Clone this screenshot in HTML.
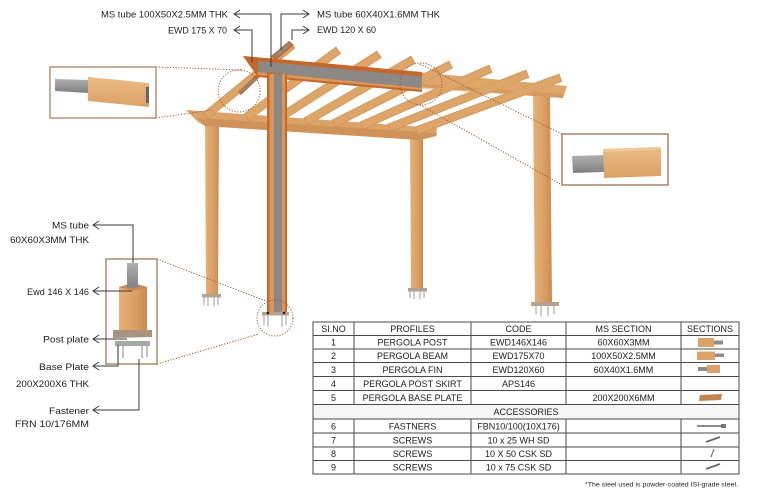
<!DOCTYPE html>
<html><head><meta charset="utf-8">
<style>
html,body{margin:0;padding:0;background:#fff;}
svg{display:block;}
text{font-family:"Liberation Sans",Arial,sans-serif;fill:#1e1e1e;}
</style></head><body>
<svg width="759" height="499" viewBox="0 0 759 499" xmlns="http://www.w3.org/2000/svg">
<defs>
<linearGradient id="post" x1="0" x2="1" y1="0" y2="0">
<stop offset="0" stop-color="#e6b07a"/><stop offset="0.6" stop-color="#da9f63"/><stop offset="1" stop-color="#c98b50"/>
</linearGradient>
<linearGradient id="steel" x1="0" y1="0" x2="0" y2="1"><stop offset="0" stop-color="#b0b0b0"/><stop offset="1" stop-color="#7f7f7f"/></linearGradient>
<linearGradient id="wblk" x1="0" y1="0" x2="0" y2="1"><stop offset="0" stop-color="#ebbb84"/><stop offset="1" stop-color="#d9a166"/></linearGradient>
</defs>
<rect width="759" height="499" fill="#fff"/>

<!-- posts behind -->
<polygon points="533,92 550,92 552,303 535,303" fill="url(#post)"/>
<polygon points="410,133 423,133 423,290 411,290" fill="url(#post)"/>
<polygon points="205,119 219,119 218,295 206,295" fill="url(#post)"/>

<!-- beam B -->
<polygon points="186,110 437,128 436,136 420,140 205,126 198,122" fill="#dca267"/>
<polygon points="198,118 437,133 436,136 420,140 205,126" fill="#cf9259"/>

<!-- beam A wood -->
<polygon points="243,56 567,86 563,98 258,75 250,66" fill="#dfa66b"/>
<polygon points="258,72 563,94 563,98 258,75" fill="#cc8d54"/>

<!-- rafters -->
<g fill="#dea569" stroke="#c88b50" stroke-width="0.6">
<polygon points="203,113 290,42 295,48 208,119"/>
<polygon points="244,114 336,47 340.7,53.4 248.7,120.4"/>
<polygon points="275,116 377,51 381.3,57.7 279.3,122.7"/>
<polygon points="304,118 411,56 415,62.9 308,124.9"/>
<polygon points="332,120 449,61 452.6,68.1 335.6,127.1"/>
<polygon points="360,122 489,65 492.2,72.3 363.2,129.3"/>
<polygon points="388,124 526,70 528.9,77.4 390.9,131.4"/>
<polygon points="415,127 559,74 561.8,81.4 417.8,134.4"/>
</g>
<!-- rafter 1 steel cuts -->
<polygon points="238,92 256,75 259,78 241,95" fill="#c5672b"/>
<polygon points="240,91 256,77 257.5,78.5 241.5,92.5" fill="#8a8a8a"/>
<polygon points="271,56 289,41 294,45 276,60" fill="#c5672b"/>
<polygon points="274,55 289,43 291.5,45 276.5,57.5" fill="#8a8a8a"/>

<!-- beam A wood right part over rafters -->
<polygon points="422,75 567,86 563,98 422,89" fill="#dea56a" opacity="0.55"/>
<!-- beam A steel section -->
<polygon points="243,56 422,72 422,92 258,77 250,66" fill="#c5672b"/>
<polygon points="258,61 422,76.5 422,88 258,72" fill="#8b8886"/>
<polygon points="258,72 422,88 422,90 258,75" fill="#d9975a"/>

<!-- center post cutaway -->
<polygon points="267,72 287,74 287,314 267,314" fill="#c5692c"/>
<rect x="269.5" y="74" width="15.5" height="240" fill="#d99658"/>
<rect x="274" y="74" width="8" height="240" fill="#8b8785"/>

<!-- base plates & anchors -->
<g stroke="#9c9c9c" stroke-width="1">
<line x1="204" y1="297" x2="204" y2="305"/><line x1="208" y1="297" x2="208" y2="306"/><line x1="214" y1="297" x2="214" y2="306"/><line x1="218" y1="297" x2="218" y2="305"/>
<line x1="264" y1="315" x2="264" y2="325"/><line x1="268" y1="315" x2="268" y2="327"/><line x1="282" y1="315" x2="282" y2="327"/><line x1="286" y1="315" x2="286" y2="325"/>
<line x1="410" y1="291" x2="410" y2="298"/><line x1="414" y1="291" x2="414" y2="299"/><line x1="420" y1="291" x2="420" y2="299"/><line x1="424" y1="291" x2="424" y2="298"/>
<line x1="536" y1="305" x2="536" y2="314"/><line x1="541" y1="305" x2="541" y2="316"/><line x1="548" y1="305" x2="548" y2="316"/><line x1="554" y1="305" x2="554" y2="314"/>
</g>
<rect x="202" y="294" width="19" height="3.5" fill="#b4a293"/>
<rect x="262" y="312" width="27" height="3.5" fill="#b4a293"/>
<circle cx="268" cy="313" r="1.3" fill="#222"/><circle cx="284" cy="313" r="1.3" fill="#222"/>
<rect x="408" y="288" width="19" height="3.5" fill="#b4a293"/>
<rect x="531" y="302" width="28" height="4" fill="#b4a293"/>

<!-- dotted circles and connectors -->
<g fill="none" stroke="#9a5a35" stroke-width="1" stroke-dasharray="1.2 1.6">
<circle cx="239" cy="91" r="21"/>
<circle cx="421" cy="84" r="21"/>
<circle cx="275" cy="318" r="18"/>
<line x1="156" y1="67" x2="243" y2="70"/>
<line x1="156" y1="118" x2="212" y2="110"/>
<line x1="420" y1="64" x2="562" y2="134"/>
<line x1="420" y1="105" x2="562" y2="185"/>
<line x1="157" y1="259" x2="266" y2="301"/>
<line x1="157" y1="364" x2="259" y2="334"/>
</g>

<!-- top-left inset -->
<rect x="50" y="67" width="106" height="51" fill="#fff" stroke="#b8937a" stroke-width="1.5"/>
<polygon points="55,79 88,80 88,93 55,91" fill="url(#steel)"/>
<polygon points="88,77 149,83 149,107 88,101" fill="url(#wblk)"/>
<polygon points="146,87 149,87 149,103 146,103" fill="#666"/>

<!-- right inset -->
<rect x="562" y="134" width="106" height="51" fill="#fff" stroke="#a98266" stroke-width="1.5"/>
<polygon points="572,156 604,155 604,172 573,173" fill="url(#steel)"/>
<polygon points="603,149 661,147 661,176 604,178" fill="url(#wblk)"/>
<polygon points="603,149 661,147 661,150 603,152" fill="#f0c896"/>

<!-- bottom-left inset -->
<rect x="106" y="259" width="51" height="105" fill="#fff" stroke="#b28a6c" stroke-width="1.5"/>
<rect x="127" y="263" width="11" height="25" fill="url(#steel)"/>
<polygon points="119,287 133,283 147,287 147,330 119,330" fill="url(#post)"/>
<polygon points="119,287 133,283 147,287 133,291" fill="#c98a52"/>
<rect x="127" y="283" width="11" height="5" fill="#888"/>
<polygon points="113,330 152,330 152,337 113,338" fill="#a8937f"/>
<rect x="115" y="341" width="35" height="5" fill="#a7a7a7"/>
<g stroke="#999" stroke-width="1.2">
<line x1="118" y1="346" x2="118" y2="357"/><line x1="123" y1="346" x2="123" y2="358"/>
<line x1="142" y1="346" x2="142" y2="358"/><line x1="147" y1="346" x2="147" y2="357"/>
</g>

<!-- label connectors -->
<g fill="none" stroke="#3a3a3a" stroke-width="1">
<polyline points="234,14 271,14 271,67"/>
<polyline points="240,10 234,14 240,18"/>
<polyline points="234,30 252,30 252,62"/>
<polyline points="240,26 234,30 240,34"/>
<polyline points="281,50 281,14 309,14"/>
<polyline points="303,10 309,14 303,18"/>
<polyline points="292,40 292,30 309,30"/>
<polyline points="303,26 309,30 303,34"/>

<polyline points="93,225 133,225 133,263"/>
<polyline points="99,221 93,225 99,229"/>
<polyline points="93,291 132,291"/>
<polyline points="99,287 93,291 99,295"/>
<polyline points="93,339 127,339"/>
<polyline points="99,335 93,339 99,343"/>
<polyline points="93,366 118,366 118,345"/>
<polyline points="99,362 93,366 99,370"/>
<polyline points="93,410 139,410 139,359"/>
<polyline points="99,406 93,410 99,414"/>
</g>

<!-- labels -->
<g font-size="9.5">
<text x="228" y="17.5" text-anchor="end" textLength="127" lengthAdjust="spacingAndGlyphs">MS tube 100X50X2.5MM THK</text>
<text x="227" y="33.5" text-anchor="end" textLength="59" lengthAdjust="spacingAndGlyphs">EWD 175 X 70</text>
<text x="317" y="17.5" textLength="123" lengthAdjust="spacingAndGlyphs">MS tube 60X40X1.6MM THK</text>
<text x="317" y="33" textLength="59" lengthAdjust="spacingAndGlyphs">EWD 120 X 60</text>

<text x="89" y="228.5" text-anchor="end" textLength="37" lengthAdjust="spacingAndGlyphs">MS tube</text>
<text x="89" y="243" text-anchor="end" textLength="79" lengthAdjust="spacingAndGlyphs">60X60X3MM THK</text>
<text x="89" y="295" text-anchor="end" textLength="62" lengthAdjust="spacingAndGlyphs">Ewd 146 X 146</text>
<text x="89" y="342.5" text-anchor="end" textLength="46" lengthAdjust="spacingAndGlyphs">Post plate</text>
<text x="89" y="370" text-anchor="end" textLength="50" lengthAdjust="spacingAndGlyphs">Base Plate</text>
<text x="89" y="387" text-anchor="end" textLength="73" lengthAdjust="spacingAndGlyphs">200X200X6 THK</text>
<text x="89" y="414" text-anchor="end" textLength="40" lengthAdjust="spacingAndGlyphs">Fastener</text>
<text x="89" y="427" text-anchor="end" textLength="74" lengthAdjust="spacingAndGlyphs">FRN 10/176MM</text>
</g>

<!-- table -->
<rect x="313" y="404.5" width="426" height="14.5" fill="#f6f6f6"/>
<g stroke="#4a4a4a" stroke-width="1" fill="none">
<rect x="313" y="322" width="426" height="152"/>
<line x1="313" y1="335.5" x2="739" y2="335.5"/>
<line x1="313" y1="349" x2="739" y2="349"/>
<line x1="313" y1="362.5" x2="739" y2="362.5"/>
<line x1="313" y1="376.5" x2="739" y2="376.5"/>
<line x1="313" y1="390.5" x2="739" y2="390.5"/>
<line x1="313" y1="404.5" x2="739" y2="404.5"/>
<line x1="313" y1="419" x2="739" y2="419"/>
<line x1="313" y1="433" x2="739" y2="433"/>
<line x1="313" y1="447" x2="739" y2="447"/>
<line x1="313" y1="460.5" x2="739" y2="460.5"/>
<line x1="354" y1="322" x2="354" y2="404.5"/><line x1="354" y1="419" x2="354" y2="474"/>
<line x1="471" y1="322" x2="471" y2="404.5"/><line x1="471" y1="419" x2="471" y2="474"/>
<line x1="566" y1="322" x2="566" y2="404.5"/><line x1="566" y1="419" x2="566" y2="474"/>
<line x1="681" y1="322" x2="681" y2="404.5"/><line x1="681" y1="419" x2="681" y2="474"/>
</g>
<g font-size="9" text-anchor="middle">
<text x="333.5" y="332">SI.NO</text><text x="412.5" y="332">PROFILES</text><text x="518.5" y="332">CODE</text><text x="623.5" y="332">MS SECTION</text><text x="710" y="332">SECTIONS</text>
<text x="333.5" y="345.5">1</text><text x="412.5" y="345.5">PERGOLA POST</text><text x="518.5" y="345.5">EWD146X146</text><text x="623.5" y="345.5">60X60X3MM</text>
<text x="333.5" y="359">2</text><text x="412.5" y="359">PERGOLA BEAM</text><text x="518.5" y="359">EWD175X70</text><text x="623.5" y="359">100X50X2.5MM</text>
<text x="333.5" y="373">3</text><text x="412.5" y="373">PERGOLA FIN</text><text x="518.5" y="373">EWD120X60</text><text x="623.5" y="373">60X40X1.6MM</text>
<text x="333.5" y="387">4</text><text x="412.5" y="387">PERGOLA POST SKIRT</text><text x="518.5" y="387">APS146</text>
<text x="333.5" y="401">5</text><text x="412.5" y="401">PERGOLA BASE PLATE</text><text x="623.5" y="401">200X200X6MM</text>
<text x="526" y="415">ACCESSORIES</text>
<text x="333.5" y="429.5">6</text><text x="412.5" y="429.5">FASTNERS</text><text x="518.5" y="429.5">FBN10/100(10X176)</text>
<text x="333.5" y="443.5">7</text><text x="412.5" y="443.5">SCREWS</text><text x="518.5" y="443.5">10 x 25 WH SD</text>
<text x="333.5" y="457">8</text><text x="412.5" y="457">SCREWS</text><text x="518.5" y="457">10 X 50 CSK SD</text>
<text x="333.5" y="470.5">9</text><text x="412.5" y="470.5">SCREWS</text><text x="518.5" y="470.5">10 x 75 CSK SD</text>
</g>
<!-- section icons -->
<rect x="698" y="338" width="16" height="9" fill="#dba36a"/><rect x="714" y="340.5" width="9" height="4" fill="#8d8d8d"/>
<rect x="697" y="351.5" width="18" height="8.5" fill="#dba36a"/><rect x="715" y="353.5" width="9" height="3.5" fill="#8d8d8d"/>
<rect x="698" y="367" width="9" height="4" fill="#8d8d8d"/><rect x="707" y="365" width="13" height="8" fill="#dba36a"/>
<polygon points="700,395 722,394 721,400 699,401" fill="#c08551"/>
<line x1="697" y1="426" x2="722" y2="426" stroke="#8d8d8d" stroke-width="2"/><rect x="721" y="424" width="5" height="4" fill="#777"/>
<line x1="706" y1="442" x2="720" y2="437" stroke="#6a6a6a" stroke-width="1.8"/>
<line x1="711" y1="457" x2="714" y2="449" stroke="#7a7a7a" stroke-width="1.3"/>
<line x1="706" y1="469" x2="720" y2="464" stroke="#6a6a6a" stroke-width="1.8"/>

<text x="738" y="486.5" font-size="6" text-anchor="end" textLength="153" lengthAdjust="spacingAndGlyphs">*The steel used is powder-coated ISI-grade steel.</text>
</svg>
</body></html>
